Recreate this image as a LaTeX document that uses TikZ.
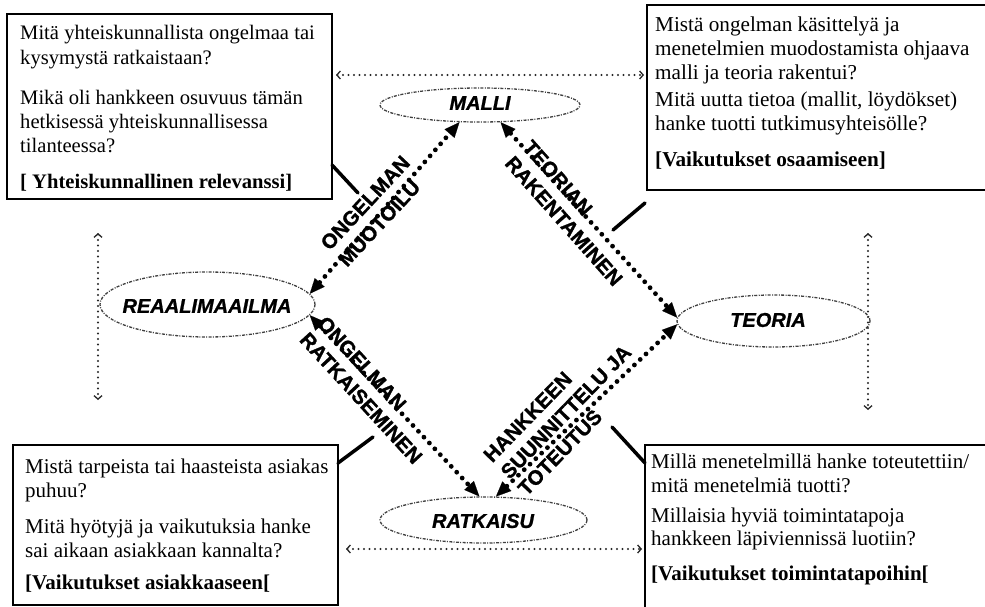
\documentclass[tikz,border=0pt]{standalone}
\usepackage{fontspec}
\setmainfont{Liberation Serif}
\newfontfamily\arialf{Liberation Sans}[BoldFeatures={FakeBold=1.2},BoldItalicFeatures={FakeBold=1}]
\usetikzlibrary{arrows.meta,shapes.geometric,calc}
\begin{document}
\begin{tikzpicture}[x=1pt,y=-1pt,
  qbox/.style={draw=black,line width=1.5pt,fill=white,inner sep=0pt,outer sep=0pt,anchor=north west},
  qtxt/.style={anchor=base west,inner sep=0pt,font=\fontsize{#1}{24}\selectfont},
  qbold/.style={anchor=base west,inner sep=0pt,font=\fontsize{#1}{24}\selectfont\bfseries},
  world/.style={ellipse,draw=black!75,line width=1.3pt,dash pattern=on 3pt off 1.2pt on 1pt off 1.5pt,inner sep=0pt},
  worldtxt/.style={inner sep=0pt,font=\arialf\bfseries\itshape\fontsize{20}{22}\selectfont},
  bigdots/.style={line width=4.8pt,dash pattern=on 0pt off 8pt,line cap=round,
     arrows={Triangle[length=15pt,width=13pt,line width=0.1pt]-Triangle[length=15pt,width=13pt,line width=0.1pt]}},
  finedots/.style={line width=2.1pt,draw=black!85,dash pattern=on 0pt off 5.5pt,line cap=round,
     arrows={Straight Barb[length=3.5pt,width=8pt,line width=1.3pt]-Straight Barb[length=3.5pt,width=8pt,line width=1.3pt]}},
  plabel/.style={font=\arialf\bfseries\fontsize{20.5}{24}\selectfont,align=left,inner sep=0pt},
  link/.style={line width=3.5pt,line cap=round}
]
\path[use as bounding box,fill=white] (0,0) rectangle (985,607);

% ellipses
\node[world,minimum width=200pt,minimum height=34pt] (malli) at (480,105) {};
\node[world,minimum width=215pt,minimum height=65pt] (real) at (207.5,304.5) {};
\node[world,minimum width=193pt,minimum height=52pt] (teoria) at (773.5,321) {};
\node[world,minimum width=207pt,minimum height=46pt] (ratk) at (483.5,520) {};
\node[worldtxt] (mallit) at (480,103) {MALLI};
\node[worldtxt] (realt) at (207,306) {REAALIMAAILMA};
\node[worldtxt] (teoriat) at (768,320) {TEORIA};
\node[worldtxt] (ratkt) at (483,521) {RATKAISU};

% boxes
\node[qbox,minimum width=325pt,minimum height=185pt] (tl) at (7,14) {};
\node[qbox,minimum width=350pt,minimum height=185pt] (tr) at (647,5) {};
\node[qbox,minimum width=325pt,minimum height=160pt] (bl) at (13,445) {};
\node[qbox,minimum width=350pt,minimum height=170pt] (br) at (645,445) {};

% thin dotted connectors
\coordinate (lv1) at (98,233);
\coordinate (lv2) at (98,400);
\coordinate (rv1) at (868,233);
\coordinate (rv2) at (868,410);
\draw[finedots,shorten <=4pt,shorten >=3pt] (tl.east |- 0,75) -- (tr.west |- 0,75);
\draw[finedots,shorten <=8pt,shorten >=3pt] (bl.east |- 0,549) -- (br.west |- 0,549);
\draw[finedots] (lv1) -- (lv2);
\draw[finedots] (rv1) -- (rv2);

% big dotted arrows
\draw[bigdots] (real.6) -- (malli.220);
\draw[bigdots] (malli.320) -- (teoria.178);
\draw[bigdots] (real.-6) -- (ratk.100);
\draw[bigdots] (ratk.62) -- (teoria.182);

% arrow labels
\node[plabel,rotate=47] (lA) at (374,211) {ONGELMAN\\MUOTOILU};
\node[plabel,rotate=-48.4] (lB) at (573,213) {TEORIAN\\RAKENTAMINEN};
\node[plabel,rotate=-47.4] (lC) at (370,390) {ONGELMAN\\RATKAISEMINEN};
\node[plabel,rotate=45.8] (lD) at (566,412) {HANKKEEN\\SUUNNITTELU JA\\TOTEUTUS};

% solid links from boxes
\coordinate (tlc) at (358,193);
\coordinate (trc1) at (645,203);
\coordinate (trc2) at (613,230);
\coordinate (blc) at (373,437);
\coordinate (brc) at (612,427);
\draw[link] (tl.east |- 0,165) -- (tlc);
\draw[link] (trc1) -- (trc2);
\draw[link] (bl.east |- 0,463) -- (blc);
\draw[link] (br.west |- 0,463) -- (brc);

% box texts
\node[qtxt=20.6] (tl1) at (20,40) {Mitä yhteiskunnallista ongelmaa tai};
\node[qtxt=20.6] (tl2) at (20,65) {kysymystä ratkaistaan?};
\node[qtxt=20.6] (tl3) at (20,105) {Mikä oli hankkeen osuvuus tämän};
\node[qtxt=20.6] (tl4) at (20,129) {hetkisessä yhteiskunnallisessa};
\node[qtxt=20.6] (tl5) at (20,153) {tilanteessa?};
\node[qbold=20.6] (tl6) at (20,188) {[ Yhteiskunnallinen relevanssi]};

\node[qtxt=21.2] (tr1) at (655,32) {Mistä ongelman käsittelyä ja};
\node[qtxt=21.2] (tr2) at (655,56) {menetelmien muodostamista ohjaava};
\node[qtxt=21.2] (tr3) at (655,80) {malli ja teoria rakentui?};
\node[qtxt=21.2] (tr4) at (655,107) {Mitä uutta tietoa (mallit, löydökset)};
\node[qtxt=21.2] (tr5) at (655,131) {hanke tuotti tutkimusyhteisölle?};
\node[qbold=21.2] (tr6) at (655,167) {[Vaikutukset osaamiseen]};

\node[qtxt=21] (bl1) at (25,473) {Mistä tarpeista tai haasteista asiakas};
\node[qtxt=21] (bl2) at (25,497) {puhuu?};
\node[qtxt=21] (bl3) at (25,533) {Mitä hyötyjä ja vaikutuksia hanke};
\node[qtxt=21] (bl4) at (25,557) {sai aikaan asiakkaan kannalta?};
\node[qbold=21] (bl5) at (25,589) {[Vaikutukset asiakkaaseen[};

\node[qtxt=21] (br1) at (651,468) {Millä menetelmillä hanke toteutettiin/};
\node[qtxt=21] (br2) at (651,492) {mitä menetelmiä tuotti?};
\node[qtxt=21] (br3) at (651,522) {Millaisia hyviä toimintatapoja};
\node[qtxt=21] (br4) at (651,545) {hankkeen läpiviennissä luotiin?};
\node[qbold=21] (br5) at (651,580) {[Vaikutukset toimintatapoihin[};
\end{tikzpicture}
\end{document}
